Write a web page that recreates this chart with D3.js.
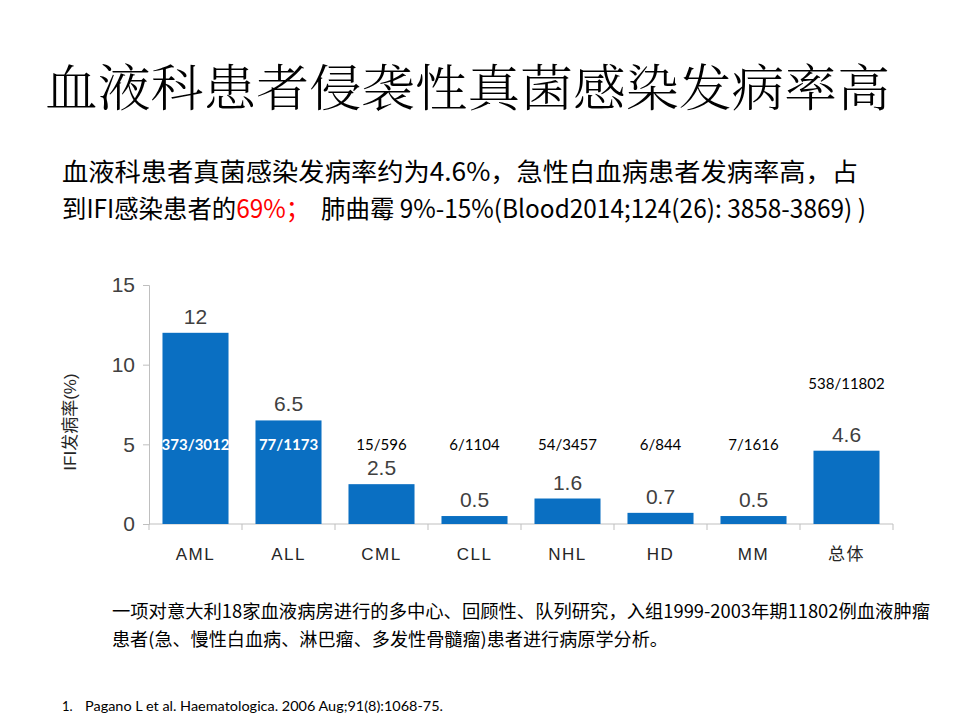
<!DOCTYPE html>
<html lang="zh">
<head>
<meta charset="UTF-8">
<title>血液科患者侵袭性真菌感染发病率高</title>
<script src="https://cdn.jsdelivr.net/npm/d3@7"></script>
<style>
  body { margin: 0; background: #fff; }
  svg { display: block; }
</style>
</head>
<body>
<svg id="slide" width="960" height="720"></svg>
<script>
// data
let categories = ["AML", "ALL", "CML", "CLL", "NHL", "HD", "MM", "总体"]
let rates = [12, 6.5, 2.5, 0.5, 1.6, 0.7, 0.5, 4.6]
let rateLabels = ["12", "6.5", "2.5", "0.5", "1.6", "0.7", "0.5", "4.6"]
let cases = ["373/3012", "77/1173", "15/596", "6/1104", "54/3457", "6/844", "7/1616", "538/11802"]
let yTicks = [0, 5, 10, 15]

let svg = d3.select("#slide")
let cjk = "'Noto Sans CJK SC', 'Microsoft YaHei', sans-serif"

// title
svg.append("text")
  .attr("x", 45).attr("y", 106)
  .attr("font-family", "'Noto Serif CJK SC', 'Noto Sans CJK SC', serif")
  .attr("font-weight", 300)
  .attr("font-size", 50)
  .attr("textLength", 845)
  .attr("lengthAdjust", "spacingAndGlyphs")
  .attr("fill", "#000")
  .text("血液科患者侵袭性真菌感染发病率高")

// subtitle
svg.append("text")
  .attr("x", 62).attr("y", 181)
  .attr("font-family", cjk).attr("font-size", 25)
  .attr("textLength", 796).attr("lengthAdjust", "spacingAndGlyphs")
  .text("血液科患者真菌感染发病率约为4.6%，急性白血病患者发病率高，占")

let sub2 = svg.append("text")
  .attr("x", 62).attr("y", 218)
  .attr("font-family", cjk).attr("font-size", 25)
  .attr("textLength", 804).attr("lengthAdjust", "spacingAndGlyphs")
sub2.append("tspan").text("到IFI感染患者的")
sub2.append("tspan").attr("fill", "#ff0000").text("69%；")
sub2.append("tspan").text("\u00a0\u00a0肺曲霉 9%-15%(Blood2014;124(26): 3858-3869) )")

// chart
let x = d3.scaleBand().domain(categories).range([149, 893]).paddingInner(0.29).paddingOuter(0.145)
let xTick = d3.scaleBand().domain(categories).range([149, 893])
let y = d3.scaleLinear().domain([0, 15]).range([524, 285])

let rows = categories.map((c, i) => ({ cat: c, rate: rates[i], label: rateLabels[i], n: cases[i] }))

// y axis
let yAxis = svg.append("g")
  .attr("transform", "translate(149,0)")
  .call(d3.axisLeft(y).tickValues(yTicks).tickSize(6).tickPadding(8))
yAxis.select(".domain").attr("stroke", "#bfbfbf")
yAxis.selectAll(".tick line").attr("stroke", "#bfbfbf")
yAxis.selectAll(".tick text")
  .attr("font-family", "'Liberation Sans', Arial, sans-serif")
  .attr("font-size", 21).attr("fill", "#404040")

// x axis with ticks at band edges
let xAxis = svg.append("g").attr("transform", "translate(0,524)")
xAxis.append("line")
  .attr("x1", xTick.range()[0]).attr("x2", xTick.range()[1])
  .attr("stroke", "#bfbfbf")
xAxis.selectAll(".edge")
  .data(categories.concat(["end"]))
  .enter().append("line")
  .attr("x1", (d, i) => i < categories.length ? xTick(d) : xTick.range()[1])
  .attr("x2", (d, i) => i < categories.length ? xTick(d) : xTick.range()[1])
  .attr("y1", 0).attr("y2", 6)
  .attr("stroke", "#bfbfbf")
xAxis.selectAll(".cat")
  .data(categories)
  .enter().append("text")
  .attr("x", d => x(d) + x.bandwidth() / 2)
  .attr("y", 36)
  .attr("text-anchor", "middle")
  .attr("font-family", "'Liberation Sans', " + cjk)
  .attr("font-size", 17).attr("letter-spacing", 1.5).attr("fill", "#262626")
  .text(d => d)

// y title
svg.append("text")
  .attr("transform", "translate(76,422) rotate(-90)")
  .attr("text-anchor", "middle")
  .attr("font-family", "'Liberation Sans', " + cjk)
  .attr("font-size", 17).attr("fill", "#262626")
  .text("IFI发病率(%)")

// bars
svg.selectAll(".bar")
  .data(rows)
  .enter().append("rect")
  .attr("x", d => x(d.cat))
  .attr("y", d => y(d.rate))
  .attr("width", x.bandwidth())
  .attr("height", d => y(0) - y(d.rate))
  .attr("fill", "#0a6fc2")

// value labels
svg.selectAll(".val")
  .data(rows)
  .enter().append("text")
  .attr("x", d => x(d.cat) + x.bandwidth() / 2)
  .attr("y", d => y(d.rate) - 9)
  .attr("text-anchor", "middle")
  .attr("font-family", "'Liberation Sans', Arial, sans-serif")
  .attr("font-size", 21).attr("fill", "#404040")
  .text(d => d.label)

// case counts: on a common row, white inside tall bars, lifted above when the value label sits there
let rowY = y(5) + 6
svg.selectAll(".n")
  .data(rows)
  .enter().append("text")
  .attr("x", d => x(d.cat) + x.bandwidth() / 2)
  .attr("y", d => (d.rate > 3.5 && d.rate < 6) ? y(d.rate) - 62 : rowY)
  .attr("text-anchor", "middle")
  .attr("font-family", "Lato, 'Open Sans', sans-serif")
  .attr("font-size", 15)
  .attr("font-weight", d => d.rate >= 6 ? 700 : 400)
  .attr("fill", d => d.rate >= 6 ? "#fff" : "#000")
  .text(d => d.n)

// note
let note = svg.append("g")
  .attr("font-family", cjk).attr("font-size", 18).attr("fill", "#000")
note.append("text")
  .attr("x", 112).attr("y", 618)
  .attr("textLength", 818).attr("lengthAdjust", "spacingAndGlyphs")
  .text("一项对意大利18家血液病房进行的多中心、回顾性、队列研究，入组1999-2003年期11802例血液肿瘤")
note.append("text")
  .attr("x", 112).attr("y", 646)
  .attr("textLength", 556).attr("lengthAdjust", "spacingAndGlyphs")
  .text("患者(急、慢性白血病、淋巴瘤、多发性骨髓瘤)患者进行病原学分析。")

svg.append("text")
  .attr("x", 62).attr("y", 711)
  .attr("font-family", "Lato, 'Open Sans', sans-serif")
  .attr("font-size", 13)
  .text("1.")
svg.append("text")
  .attr("x", 85).attr("y", 711)
  .attr("font-family", "Lato, 'Open Sans', sans-serif")
  .attr("font-size", 13)
  .attr("textLength", 358).attr("lengthAdjust", "spacingAndGlyphs")
  .text("Pagano L et al. Haematologica. 2006 Aug;91(8):1068-75.")
</script>
</html>
